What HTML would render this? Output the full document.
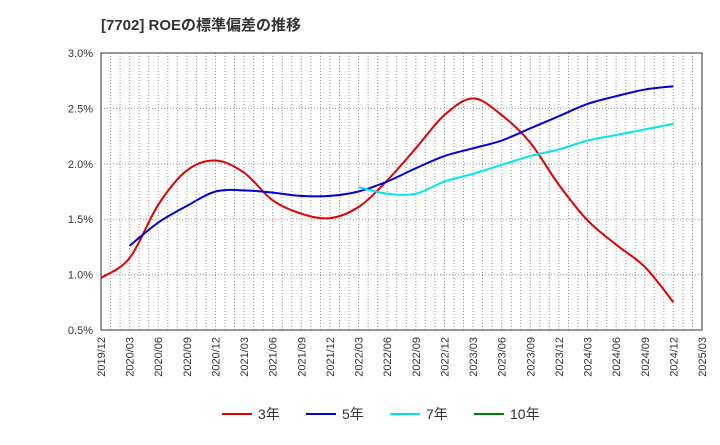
<!DOCTYPE html>
<html><head><meta charset="utf-8"><style>
body{margin:0;background:#fff;width:720px;height:440px;overflow:hidden;font-family:"Liberation Sans","Noto Sans CJK JP",sans-serif}
</style></head><body>
<svg width="720" height="440" font-family="Liberation Sans, Noto Sans CJK JP, sans-serif">
<text x="101" y="30" font-size="15" font-weight="bold" fill="#333">[7702]  ROEの標準偏差の推移</text>
<g id="grid"></g>
<g id="axes"></g>
<g id="series"></g>
<g id="legend"></g>
</svg>
<script>
const xLabels=["2019/12","2020/03","2020/06","2020/09","2020/12","2021/03","2021/06","2021/09","2021/12","2022/03","2022/06","2022/09","2022/12","2023/03","2023/06","2023/09","2023/12","2024/03","2024/06","2024/09","2024/12","2025/03"];
const yTicks=[0.5,1.0,1.5,2.0,2.5,3.0];
const s3=[0.97,1.15,1.63,1.94,2.03,1.92,1.67,1.55,1.51,1.61,1.85,2.14,2.44,2.59,2.44,2.19,1.81,1.49,1.27,1.07,0.75];
const s5=[null,1.26,1.47,1.62,1.75,1.76,1.74,1.71,1.71,1.75,1.84,1.96,2.07,2.14,2.21,2.32,2.43,2.54,2.61,2.67,2.70];
const s7=[null,null,null,null,null,null,null,null,null,1.79,1.73,1.73,1.84,1.91,1.99,2.07,2.13,2.21,2.26,2.31,2.36];
const s10=[];
const NS="http://www.w3.org/2000/svg";
const L=101,R=702,T=53,B=330;
const xq=i=>L+(R-L)*i/(xLabels.length-1);
const y=v=>B-(v-0.5)/2.5*(B-T);
function mk(tag,attrs,parent){const e=document.createElementNS(NS,tag);for(const k in attrs)e.setAttribute(k,attrs[k]);parent.appendChild(e);return e;}
const grid=document.getElementById('grid'),axes=document.getElementById('axes'),ser=document.getElementById('series'),leg=document.getElementById('legend');
for(let m=1;m<(xLabels.length-1)*3;m++){const x=L+(R-L)*m/((xLabels.length-1)*3);
const g=mk('line',{x1:x,x2:x,y1:T,y2:B,stroke:'#999','stroke-dasharray':'1,2','stroke-width':1},grid);

}
yTicks.forEach(v=>{const g=mk('line',{x1:L,x2:R,y1:y(v),y2:y(v),stroke:'#999','stroke-dasharray':'1,2'},grid);


const t=mk('text',{x:93,y:y(v)+4,'text-anchor':'end','font-size':11,fill:'#333'},axes);t.textContent=v.toFixed(1)+'%';

});
const fr=mk('rect',{x:L,y:T,width:R-L,height:B-T,fill:'none',stroke:'#333'},axes);


xLabels.forEach((s,i)=>{const x=xq(i)+4;const t=mk('text',{x:x,y:337,'text-anchor':'end','font-size':11,fill:'#333',transform:`rotate(-90 ${x} 337)`},axes);t.textContent=s;

});
function path(arr,color,name){const p=[];arr.forEach((v,i)=>{if(v!=null)p.push([xq(i),y(v)]);});if(p.length<2)return;
let d=`M${p[0][0]},${p[0][1]}`;for(let i=0;i<p.length-1;i++){const p0=p[i-1]||p[i],p1=p[i],p2=p[i+1],p3=p[i+2]||p2;
d+=` C${p1[0]+(p2[0]-p0[0])/6},${p1[1]+(p2[1]-p0[1])/6} ${p2[0]-(p3[0]-p1[0])/6},${p2[1]-(p3[1]-p1[1])/6} ${p2[0]},${p2[1]}`;}
const e=mk('path',{d:d,fill:'none',stroke:color,'stroke-width':2},ser);

}
path(s3,'#e00000','line-3yr');path(s5,'#0000dd','line-5yr');path(s7,'#00e5ee','line-7yr');path(s10,'#008000','line-10yr');
[['3年','#e00000',222],['5年','#0000dd',306],['7年','#00e5ee',390],['10年','#008000',474]].forEach(([n,c,x])=>{
const g=mk('g',{},leg);


mk('line',{x1:x,x2:x+30,y1:414,y2:414,stroke:c,'stroke-width':2},g);
const t=mk('text',{x:x+36,y:419,'font-size':14,fill:'#333'},g);t.textContent=n;});
</script>
</body></html>
